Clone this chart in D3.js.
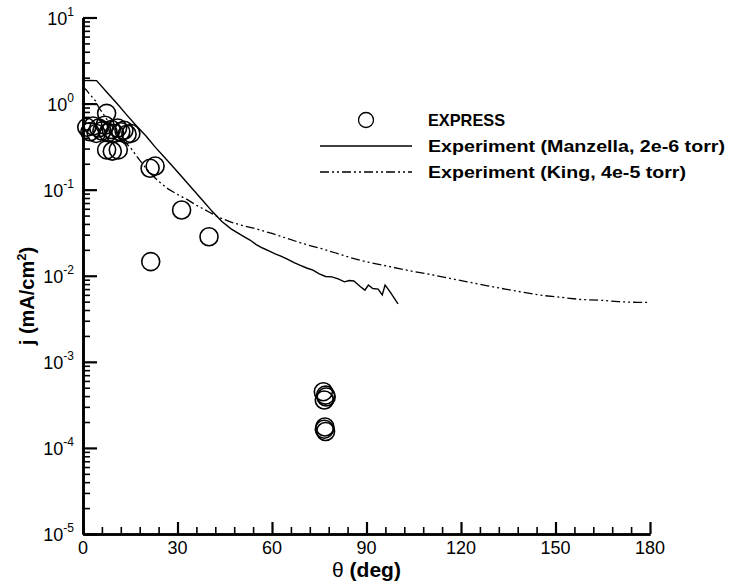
<!DOCTYPE html>
<html>
<head>
<meta charset="utf-8">
<script src="https://cdn.jsdelivr.net/npm/d3@7"></script>
<style>
  html, body { margin: 0; padding: 0; background: #fff; }
  svg { display: block; font-family: "Liberation Sans", Arial, Helvetica, sans-serif; }
</style>
</head>
<body>
<svg id="chart" width="734" height="586"></svg>
<script>
// Beam current density vs. angle: EXPRESS simulation against two experiments
const expressTheta = [1.2, 2.2, 3.2, 4.2, 5.0, 6.0, 7.0, 8.0, 9.0, 10.0, 11.0, 12.0, 13.0, 14.0, 15.2,
  7.5, 7.5, 9.3, 11.2, 21.3, 22.9, 31.3, 40.0, 21.5,
  76.3, 77.0, 76.6, 77.2, 76.8, 77.0, 76.6];
const expressJ = [0.53, 0.47, 0.55, 0.45, 0.52, 0.48, 0.56, 0.46, 0.50, 0.45, 0.52, 0.47, 0.49, 0.44, 0.45,
  0.77, 0.29, 0.28, 0.29, 0.177, 0.188, 0.058, 0.0284, 0.0146,
  4.5e-4, 4.1e-4, 3.6e-4, 3.9e-4, 1.75e-4, 1.55e-4, 1.65e-4];

const manzellaTheta = [0, 2, 4.3, 8, 11, 14, 17, 20, 23, 26, 29, 32, 35, 38, 41, 44, 47, 50, 53, 55, 57, 59,
  61, 63, 65, 67, 69, 71, 73, 75, 77, 79, 81, 83, 84.5, 86, 88, 89.5, 90.6, 92, 93.7, 95, 95.9, 97.5, 100];
const manzellaJ = [1.85, 1.86, 1.85, 1.3, 0.98, 0.73, 0.55, 0.42, 0.31, 0.235, 0.177, 0.133, 0.1, 0.075, 0.056,
  0.043, 0.035, 0.030, 0.026, 0.023, 0.021, 0.0195, 0.018, 0.0168, 0.0155, 0.0142, 0.0132, 0.0123, 0.0116,
  0.0105, 0.0098, 0.0097, 0.0092, 0.0085, 0.0088, 0.0087, 0.0075, 0.0068, 0.0078, 0.0071, 0.0070, 0.0060,
  0.0078, 0.0065, 0.0047];

const kingTheta = [0, 1, 2, 3, 4, 5, 6, 8, 10, 12, 15, 18, 21, 24, 27, 30, 33, 36, 40, 43, 47, 51, 55, 60, 65,
  70, 75, 80, 85, 90, 95, 100, 105, 110, 116, 122, 128, 134, 140, 146, 152, 158, 164, 170, 176, 180];
const kingJ = [1.55, 1.45, 1.3, 1.18, 1.07, 0.9, 0.8, 0.62, 0.5, 0.4, 0.31, 0.22, 0.16, 0.125, 0.102, 0.088,
  0.077, 0.066, 0.055, 0.048, 0.042, 0.038, 0.035, 0.031, 0.027, 0.0235, 0.021, 0.0185, 0.0162, 0.0145,
  0.0133, 0.0122, 0.0112, 0.0104, 0.0094, 0.0085, 0.0077, 0.007, 0.0064, 0.0059, 0.0056, 0.0053, 0.0052,
  0.005, 0.0049, 0.0049];

const xTicks = [0, 30, 60, 90, 120, 150, 180];
const yExponents = [1, 0, -1, -2, -3, -4, -5];
const legendLabels = ["EXPRESS", "Experiment (Manzella, 2e-6 torr)", "Experiment (King, 4e-5 torr)"];
const legendWidths = [77, 297, 258];

const svg = d3.select("#chart");
const x = d3.scaleLinear().domain([0, 180]).range([83, 650]);
const y = d3.scaleLog().domain([1e-5, 10]).range([534, 17.5]);

// minor ticks: 2..9 in every decade, every 6 degrees on x
const yMinor = [];
for (let e = -5; e < 1; e++) for (let m = 2; m <= 9; m++) yMinor.push(m * Math.pow(10, e));
const xMinor = d3.range(0, 181, 6).filter(d => d % 30 !== 0);

const axisStyle = g => {
  g.select(".domain").attr("stroke", "#000").attr("stroke-width", 2.6);
  g.selectAll(".tick line").attr("stroke", "#000").attr("stroke-width", 1.6);
};

// y axis
svg.append("g").attr("transform", "translate(83,0)")
  .call(d3.axisLeft(y).tickValues(yMinor).tickSize(-7).tickSizeOuter(0).tickFormat(""))
  .call(axisStyle);
const yMajor = svg.append("g").attr("transform", "translate(83,0)")
  .call(d3.axisLeft(y).tickValues(yExponents.map(e => Math.pow(10, e))).tickSize(-14).tickSizeOuter(0).tickFormat(""))
  .call(axisStyle);
yMajor.selectAll(".tick line").attr("stroke-width", 2.2);

// x axis
svg.append("g").attr("transform", "translate(0,534)")
  .call(d3.axisBottom(x).tickValues(xMinor).tickSize(-7).tickSizeOuter(0).tickFormat(""))
  .call(axisStyle);
const xMajor = svg.append("g").attr("transform", "translate(0,534)")
  .call(d3.axisBottom(x).tickValues(xTicks).tickSize(-12).tickSizeOuter(0).tickFormat(""))
  .call(axisStyle);
xMajor.selectAll(".tick line").attr("stroke-width", 2.2);

// y tick labels as 10 with superscript exponent
yExponents.forEach(e => {
  const t = svg.append("text")
    .attr("x", 74).attr("y", y(Math.pow(10, e)) + 7)
    .attr("text-anchor", "end").attr("font-size", 18).attr("fill", "#000");
  t.append("tspan").text("10");
  t.append("tspan").attr("font-size", 12).attr("dy", -9).text(String(e));
});

// x tick labels
svg.append("g").selectAll("text").data(xTicks).join("text")
  .attr("x", d => x(d)).attr("y", 554)
  .attr("text-anchor", "middle").attr("font-size", 18).attr("fill", "#000")
  .text(d => d);

// axis titles
const xt = svg.append("text").attr("x", x(90)).attr("y", 577)
  .attr("text-anchor", "middle").attr("font-size", 21).attr("fill", "#000");
xt.append("tspan").text("θ");
xt.append("tspan").attr("font-weight", "bold").text(" (deg)");

const yt = svg.append("text")
  .attr("transform", "translate(34,296) rotate(-90)")
  .attr("text-anchor", "middle").attr("font-size", 20).attr("font-weight", "bold").attr("fill", "#000");
yt.append("tspan").text("j (mA/cm");
yt.append("tspan").attr("font-size", 13).attr("dy", -8).text("2");
yt.append("tspan").attr("dy", 8).text(")");

// experiment curves
const line = d3.line().x(d => x(d[0])).y(d => y(d[1]));
const kingDash = "9,3,2,3,2,3";
svg.append("path")
  .datum(kingTheta.map((t, i) => [t, kingJ[i]]))
  .attr("d", line).attr("fill", "none").attr("stroke", "#000")
  .attr("stroke-width", 1.3).attr("stroke-dasharray", kingDash);
svg.append("path")
  .datum(manzellaTheta.map((t, i) => [t, manzellaJ[i]]))
  .attr("d", line).attr("fill", "none").attr("stroke", "#000")
  .attr("stroke-width", 1.4);

// EXPRESS results
svg.append("g").selectAll("circle")
  .data(expressTheta.map((t, i) => [t, expressJ[i]]))
  .join("circle")
  .attr("cx", d => x(d[0])).attr("cy", d => y(d[1])).attr("r", 9)
  .attr("fill", "none").attr("stroke", "#000").attr("stroke-width", 1.6);

// legend
const lg = svg.append("g");
const rows = [120, 146, 172];
lg.append("circle").attr("cx", 366).attr("cy", rows[0]).attr("r", 7.5)
  .attr("fill", "none").attr("stroke", "#000").attr("stroke-width", 1.3);
lg.append("line").attr("x1", 320).attr("x2", 412).attr("y1", rows[1]).attr("y2", rows[1])
  .attr("stroke", "#000").attr("stroke-width", 1.3);
lg.append("line").attr("x1", 320).attr("x2", 412).attr("y1", rows[2]).attr("y2", rows[2])
  .attr("stroke", "#000").attr("stroke-width", 1.3).attr("stroke-dasharray", kingDash);
lg.selectAll("text").data(legendLabels).join("text")
  .attr("x", 428).attr("y", (d, i) => rows[i] + 6)
  .attr("font-size", 17).attr("font-weight", "bold").attr("fill", "#000")
  .attr("textLength", (d, i) => legendWidths[i]).attr("lengthAdjust", "spacingAndGlyphs")
  .text(d => d);
</script>
</body>
</html>
